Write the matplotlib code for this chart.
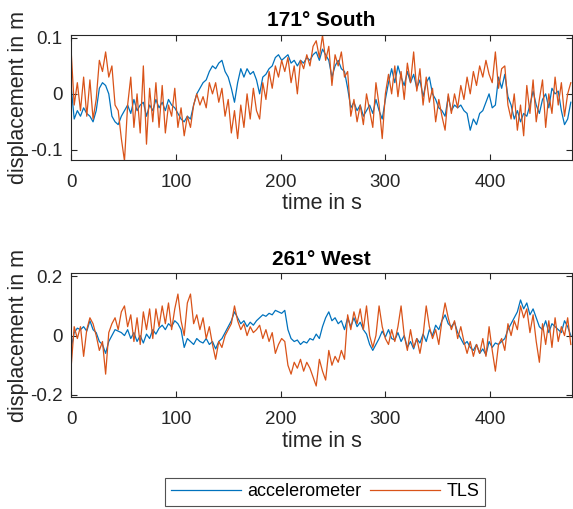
import matplotlib
matplotlib.use('Agg')
import matplotlib.pyplot as plt
import numpy as np

plt.rcParams['font.family'] = ['Liberation Sans', 'DejaVu Sans']
plt.rcParams['axes.unicode_minus'] = False

# time grid in s (3 s steps)
t = np.arange(0, 478, 3)

# 171° South
acc_south = [
    0.015, -0.045, -0.03, -0.04, -0.025, -0.035, -0.04, -0.05, -0.03, 0.01,
    0.02, 0.015, 0.0, -0.04, -0.05, -0.055, -0.04, -0.03, -0.02, -0.035,
    -0.01, -0.03, -0.02, -0.015, -0.04, -0.02, -0.03, -0.01, -0.025, -0.015,
    -0.03, -0.01, -0.02, -0.025, -0.035, -0.045, -0.05, -0.04, -0.045, -0.02,
    0.0, 0.01, 0.02, 0.025, 0.04, 0.05, 0.045, 0.055, 0.06, 0.04,
    0.03, 0.01, -0.015, 0.02, 0.045, 0.03, 0.045, 0.035, 0.04, 0.025,
    0.0, 0.03, 0.035, 0.045, 0.05, 0.065, 0.07, 0.06, 0.065, 0.07,
    0.055, 0.06, 0.05, 0.06, 0.055, 0.065, 0.06, 0.07, 0.075, 0.06,
    0.08, 0.07, 0.06, 0.03, 0.05, 0.06, 0.045, 0.04, 0.01, -0.025,
    -0.015, -0.03, -0.02, -0.04, -0.03, -0.02, -0.035, -0.01, -0.03, -0.045,
    -0.01, 0.02, 0.045, 0.02, 0.05, 0.03, 0.015, 0.04, 0.02, 0.035,
    0.01, 0.025, -0.005, 0.02, 0.03, 0.0, -0.01, -0.025, -0.03, -0.04,
    -0.005, -0.03, -0.02, -0.025, -0.02, -0.03, -0.035, -0.065, -0.045, -0.055,
    -0.035, -0.03, -0.015, 0.0, -0.025, -0.02, 0.03, 0.01, 0.035, -0.005,
    -0.02, -0.045, -0.03, -0.05, -0.035, -0.04, -0.02, 0.005, -0.02, -0.035,
    -0.01, 0.0, -0.025, 0.01, 0.0, 0.005, -0.03, -0.055, -0.045, -0.015,
]
tls_south = [
    0.08, -0.02, 0.02, -0.03, 0.03, -0.04, 0.025, -0.045, -0.01, 0.06,
    0.04, 0.075, 0.03, 0.05, -0.02, -0.03, -0.08, -0.12, -0.02, 0.03,
    -0.06, 0.0, -0.07, 0.05, -0.09, 0.01, -0.05, 0.02, -0.06, 0.015,
    -0.07, -0.02, -0.04, 0.01, -0.06, -0.025, -0.075, -0.04, -0.06, -0.02,
    0.0, -0.02, -0.005, -0.025, 0.02, 0.0, 0.02, -0.015, 0.01, -0.04,
    -0.01, -0.07, -0.03, -0.08, -0.02, -0.06, 0.0, -0.045, 0.01, -0.03,
    -0.045, 0.02, -0.01, 0.04, 0.01, 0.05, 0.03, 0.06, 0.04, 0.065,
    0.02, 0.05, 0.0, 0.06, 0.045, 0.07, 0.05, 0.085, 0.095, 0.065,
    0.105, 0.06, 0.085, 0.015, 0.07, 0.05, 0.075, 0.03, 0.04, -0.04,
    -0.01, -0.05, -0.02, -0.055, 0.0, -0.03, -0.06, 0.02, -0.02, -0.08,
    0.0, 0.035, 0.0, 0.05, -0.005, 0.04, -0.01, 0.055, 0.02, 0.075,
    0.005, 0.045, -0.02, 0.03, -0.015, 0.01, -0.05, -0.01, -0.04, -0.065,
    0.0, -0.035, 0.0, -0.025, 0.015, -0.01, 0.03, 0.0, 0.04, 0.015,
    0.05, 0.03, 0.06, 0.035, 0.02, 0.075, 0.01, 0.045, 0.05, -0.02,
    -0.045, 0.0, -0.065, -0.02, -0.075, 0.015, -0.035, 0.025, -0.05, -0.01,
    0.025, -0.06, 0.0, -0.035, 0.03, -0.02, 0.02, -0.04, 0.0, 0.02,
]

# 261° West
acc_west = [
    -0.045, 0.01, 0.025, 0.02, 0.03, 0.015, 0.05, 0.02, 0.01, -0.02,
    -0.03, -0.06, -0.02, 0.0, 0.02, 0.015, 0.01, 0.0, 0.02, -0.01,
    0.01, -0.02, 0.0, -0.025, 0.005, -0.01, 0.02, 0.005, 0.025, 0.035,
    0.02, 0.04, 0.03, 0.05, 0.04, 0.02, -0.04, -0.01, -0.02, -0.03,
    -0.01, -0.02, -0.025, -0.01, -0.03, -0.02, -0.045, -0.02, -0.01, 0.01,
    0.03, 0.05, 0.08, 0.06, 0.04, 0.05, 0.03, 0.045, 0.035, 0.05,
    0.06, 0.07, 0.065, 0.075, 0.07, 0.085, 0.08, 0.075, 0.085, 0.02,
    -0.01, -0.02, -0.015, -0.03, -0.02, -0.025, -0.01, -0.015, 0.005, -0.01,
    0.03, 0.06, 0.08, 0.05, 0.06, 0.04, 0.05, 0.02, 0.06, 0.03,
    0.06, 0.03, 0.045, 0.02, 0.005, -0.03, -0.05, -0.03, -0.01, 0.015,
    -0.005, 0.02, -0.01, -0.015, 0.01, -0.02, 0.0, -0.04, -0.02, -0.045,
    -0.01, -0.025, 0.005, -0.02, 0.02, 0.0, 0.035, 0.02, 0.05, 0.07,
    0.04, 0.03, 0.045, 0.01, -0.01, -0.03, -0.02, -0.04, -0.05, -0.03,
    -0.06, -0.045, -0.065, -0.02, -0.04, -0.025, -0.03, -0.02, -0.01, 0.02,
    0.04, 0.06, 0.08, 0.12, 0.09, 0.11, 0.07, 0.09, 0.06, 0.03,
    0.02, 0.05, 0.01, 0.04, 0.03, 0.02, 0.01, 0.05, 0.03, 0.0,
]
tls_west = [
    -0.11, 0.03, -0.01, 0.03, -0.07, 0.02, 0.06, 0.04, 0.0, -0.05,
    -0.02, -0.13, 0.01, 0.04, 0.06, 0.02, 0.08, 0.1, 0.03, 0.07,
    -0.02, 0.06, -0.03, 0.08, 0.02, 0.09, -0.01, 0.09, 0.03, 0.1,
    0.04, 0.11, 0.02, 0.09, 0.14, 0.05, 0.0, 0.11, 0.14, 0.04,
    0.07, 0.02, 0.06, -0.01, 0.03, -0.03, -0.08, -0.02, -0.04, 0.0,
    0.02, 0.04, 0.1, 0.05, 0.02, 0.04, 0.0, 0.03, 0.01, 0.02,
    0.035, -0.01, 0.02, -0.02, 0.01, -0.06, -0.03, -0.01, -0.02, -0.1,
    -0.13, -0.09, -0.11, -0.08, -0.12, -0.09, -0.11, -0.14, -0.17, -0.08,
    -0.12, -0.15, -0.05, -0.1, -0.07, -0.09, -0.05, -0.08, 0.07, 0.02,
    0.08, 0.04, 0.09, 0.02, 0.1, 0.0, -0.04, 0.0, 0.1, 0.03,
    -0.01, -0.03, 0.02, -0.02, 0.03, 0.1, 0.0, -0.05, 0.02, -0.04,
    -0.01, -0.06, 0.0, 0.1, 0.03, -0.01, 0.02, -0.03, 0.05, 0.11,
    0.06, 0.02, 0.05, -0.01, 0.03, -0.02, -0.06, -0.02, -0.07, -0.03,
    -0.06, -0.01, -0.07, 0.03, -0.05, -0.12, -0.03, -0.01, -0.05, 0.04,
    0.0, 0.05, 0.02, 0.1, 0.06, 0.09, 0.01, 0.07, -0.02, -0.09,
    0.04, -0.03, 0.05, -0.04, 0.06, -0.02, 0.03, 0.0, 0.06, -0.03,
]

blue = '#0072BD'
orange = '#D95319'
dark = '#262626'

fig = plt.figure(figsize=(5.73, 5.09), dpi=100)
ax1 = fig.add_axes([0.124, 0.686, 0.874, 0.246])
ax2 = fig.add_axes([0.124, 0.2195, 0.874, 0.2436])

panels = [
    (ax1, acc_south, tls_south, '171° South', (-0.118, 0.106), [-0.1, 0, 0.1], ['-0.1', '0', '0.1']),
    (ax2, acc_west, tls_west, '261° West', (-0.208, 0.21), [-0.2, 0, 0.2], ['-0.2', '0', '0.2']),
]

for ax, acc, tls, title, ylim, yt, ytl in panels:
    ax.plot(t, acc, color=blue, linewidth=0.9, label='accelerometer')
    ax.plot(t, tls, color=orange, linewidth=0.9, label='TLS')
    ax.set_xlim(0, 478)
    ax.set_ylim(*ylim)
    ax.set_xticks([0, 100, 200, 300, 400])
    ax.set_yticks(yt)
    ax.set_yticklabels(ytl)
    ax.tick_params(direction='in', top=True, right=True, length=4, width=0.8,
                   colors=dark, labelsize=13.5)
    ax.tick_params(axis='x', pad=10)
    ax.tick_params(axis='y', pad=6)
    for s in ax.spines.values():
        s.set_color(dark)
        s.set_linewidth(0.8)
    ax.set_xlabel('time in s', fontsize=15.5, color=dark, labelpad=2)
    ax.set_ylabel('displacement in m', fontsize=15.5, color=dark, labelpad=1)
    ax.set_title(title, fontsize=15, fontweight='bold', pad=6)

h, l = ax1.get_legend_handles_labels()
leg = fig.legend(h, l, loc='center', bbox_to_anchor=(0.567, 0.034), ncol=2,
                 fontsize=13, handlelength=3.9, handletextpad=0.35,
                 frameon=True, fancybox=False, edgecolor=dark,
                 columnspacing=0.45, borderpad=0.3, borderaxespad=0)
leg.get_frame().set_linewidth(0.8)

fig.savefig('out.png', dpi=100)
